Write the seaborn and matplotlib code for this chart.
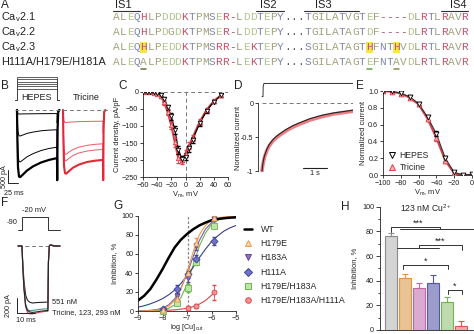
import matplotlib
matplotlib.use("Agg")
import matplotlib.pyplot as plt
import numpy as np
import pandas as pd
import seaborn as sns
from matplotlib.patches import Rectangle
from matplotlib.lines import Line2D

# ------------------------------------------------------------------ data
# Panel A: alignment
SEQ_NAMES = ["Ca$_\\mathrm{v}$2.1", "Ca$_\\mathrm{v}$2.2", "Ca$_\\mathrm{v}$2.3", "H111A/H179E/H181A"]
SEQS = [
    "ALEQHLPDDDKTPMSER-LDDTEPY...TGILATVGTEF----DLRTLRAVR",
    "ALEQHLPDGDKTPMSER-LDDTEPY...TGILATAGTDF----DLRTLRAVR",
    "ALEQHLPEDDKTPMSRR-LEKTEPY...SGILATAGTHFNTHVDLRTLRAVR",
    "ALEQALPEDDKTPMSRR-LEKTEPY...SGILATAGTEFNTAVDLRTLRAVR",
]
SEGMENT_NAMES = ["IS1", "IS2", "IS3", "IS4"]
SEGMENT_START = [0, 21, 28, 48]
SEGMENT_END = [4, 25, 36, 52]
HIGHLIGHT_ROW = [2, 2, 2]
HIGHLIGHT_POS = [4, 37, 41]
UNDERLINE_ROW = [3, 3, 3]
UNDERLINE_POS = [4, 37, 41]

# Panel B: current traces (ms, pA)
B_T = [0, 1, 2.5, 5, 8, 15, 25, 40, 60, 80, 100, 100.5, 101.5, 103, 106]
B_HEPES = [
    [0, -80, -140, -155, -155, -150, -148, -145, -142, -140, -138, -500, -120, -10, 0],
    [0, -450, -850, -990, -1000, -960, -900, -850, -800, -775, -760, -1500, -300, -40, 0],
    [0, -900, -1700, -1980, -2000, -1920, -1800, -1680, -1560, -1480, -1430, -2300, -500, -60, 0],
    [0, -1200, -2200, -2560, -2580, -2480, -2330, -2170, -2020, -1920, -1850, -2700, -700, -80, 0],
]
B_TRICINE = [
    [0, -200, -420, -480, -480, -470, -460, -450, -440, -435, -430, -900, -200, -20, 0],
    [0, -800, -1500, -1700, -1700, -1620, -1520, -1430, -1360, -1320, -1300, -2000, -400, -50, 0],
    [0, -950, -1750, -1950, -1950, -1860, -1750, -1650, -1580, -1540, -1520, -2300, -500, -60, 0],
    [0, -1150, -2150, -2430, -2450, -2350, -2220, -2100, -2000, -1950, -1920, -2700, -700, -80, 0],
]
B_STEP_MV = [-40, -30, -20, -10, 0, 10]

# Panel C: I-V
C_V = [-60, -55, -50, -45, -40, -35, -30, -25, -20, -15, -10, -5, 0, 5, 10, 20, 30, 40, 50]
C_HEPES = [0, 0, 0, -1, -3, -8, -22, -45, -72, -112, -170, -197, -190, -165, -140, -92, -55, -28, -10]
C_HEPES_ERR = [2, 2, 2, 2, 3, 4, 6, 8, 10, 12, 12, 10, 10, 10, 9, 8, 6, 5, 5]
C_TRICINE = [0, 0, -1, -2, -5, -12, -30, -60, -98, -148, -195, -200, -182, -158, -135, -88, -52, -27, -10]
C_TRICINE_ERR = [2, 2, 2, 2, 3, 5, 7, 9, 12, 14, 13, 11, 10, 10, 9, 8, 6, 5, 5]

# Panel D: normalized current decay
D_T = [0, 0.02, 0.05, 0.1, 0.2, 0.3, 0.45, 0.6, 0.75, 1.0, 1.25, 1.5, 2.0, 2.5, 3.0, 3.5, 3.8]
D_HEPES = [-1, -0.93, -0.86, -0.78, -0.68, -0.61, -0.54, -0.49, -0.45, -0.39, -0.34, -0.30, -0.23, -0.18, -0.145, -0.12, -0.105]
D_TRICINE = [-1, -0.94, -0.88, -0.80, -0.70, -0.63, -0.56, -0.51, -0.47, -0.41, -0.36, -0.32, -0.25, -0.20, -0.16, -0.135, -0.12]

# Panel E: inactivation
E_V = [-100, -90, -80, -70, -60, -50, -40, -30, -20, -10, 0]
E_HEPES = [1.0, 0.995, 0.975, 0.93, 0.85, 0.69, 0.49, 0.20, 0.03, 0.0, 0.01]
E_TRICINE = [1.0, 0.99, 0.97, 0.92, 0.84, 0.67, 0.44, 0.17, 0.02, 0.0, 0.0]
E_ERR = [0.01, 0.01, 0.02, 0.02, 0.02, 0.03, 0.03, 0.03, 0.02, 0.01, 0.01]

# Panel F: traces with Cu (ms, pA)
F_T = [0, 2.2, 2.7, 3.3, 4.2, 5.2, 6.5, 8, 10, 12, 14, 16.6, 16.9, 17.4, 18, 19, 20.5, 23.3]
F_TRACES = {
    "551 nM": [0, 0, -250, -460, -650, -720, -750, -760, -755, -752, -750, -748, -200, 0, 15, 8, 0, 0],
    "Tricine": [0, 0, -300, -560, -790, -860, -880, -885, -880, -872, -865, -860, -220, 0, 15, 8, 0, 0],
    "123 nM": [0, 0, -310, -580, -810, -885, -905, -905, -895, -885, -875, -870, -220, 0, 15, 8, 0, 0],
    "293 nM": [0, 0, -290, -540, -770, -845, -862, -860, -852, -845, -840, -838, -210, 0, 15, 8, 0, 0],
}
F_COLORS = {"551 nM": "#222222", "Tricine": "#222222", "123 nM": "#e0506a", "293 nM": "#3c9a86"}
F_PROTO_T = [0, 2.2, 2.2, 16.7, 16.7, 23.3]
F_PROTO_V = [-90, -90, -20, -20, -90, -90]

# Panel G: concentration-response
G_CURVE_X = [-9, -8.75, -8.5, -8.25, -8, -7.75, -7.5, -7.25, -7, -6.75, -6.5, -6.25, -6, -5.75, -5.5, -5.25, -5]
G_WT_CURVE = [11, 16, 23, 33, 44, 56, 67, 75, 81, 86, 90, 93, 95.5, 96.8, 97.6, 98.2, 98.6]
G_H111A_CURVE = [4, 5.5, 7.5, 10, 13, 17, 22, 29, 37, 46, 56, 65, 73, 79, 84, 87.5, 90]
G_H179E_CURVE = [0, 0.2, 0.4, 0.9, 2.2, 5, 11, 23, 41, 62, 80, 90, 96, 98, 99, 99.6, 100]
G_H183A_CURVE = [0.1, 0.3, 0.7, 1.5, 3, 6.5, 13, 24, 39, 57, 74, 86, 93, 96.5, 98, 99, 99.5]
G_DBL_CURVE = [0, 0.1, 0.2, 0.5, 1.2, 2.8, 6.5, 14, 28, 48, 68, 82, 91, 95.5, 97.8, 99, 99.5]
G_TRIPLE_CURVE_X = [-9, -8.5, -8, -7.5, -7, -6.75, -6.5, -6.25, -6, -5.9]
G_TRIPLE_CURVE = [0, 0.2, 0.5, 1.2, 2.8, 4.5, 7.2, 11, 16.5, 19]
G_X = [-8.0, -7.42, -6.95, -6.63, -5.9]
G_H179E = [1, 13, 40, 72, 98]
G_H179E_ERR = [1, 3, 4, 5, 2]
G_H183A = [1, 16, 35, 68, 97]
G_H183A_ERR = [1, 3, 4, 4, 2]
G_H111A = [2, 23, 38.5, 55, 74]
G_H111A_ERR = [1, 4, 4, 4, 4]
G_DBL = [0.3, 8, 24, 52, 90]
G_DBL_ERR = [0.5, 2, 4, 4, 2]
G_TRIPLE_X = [-6.95, -6.63, -5.9]
G_TRIPLE = [3, 5.5, 19.5]
G_TRIPLE_ERR = [2, 2, 8]
G_CU_LINE = -6.95

# Panel H: bars at 123 nM
H_LABELS = ["WT", "H179E", "H183A", "H111A", "H179E/H183A", "H179E/H183A/H111A"]
H_VALUES = [76, 42, 34, 38, 23, 3]
H_ERR = [2.5, 3.5, 4.5, 6.5, 4, 4]
H_FILL = ["#d4d4d4", "#f7c585", "#e3a2d4", "#9494d2", "#bde3a6", "#f6a3a3"]
H_EDGE = ["#8c8c8c", "#e29445", "#c465a8", "#5558a8", "#73b456", "#e05454"]
SIG_TEXT = ["***", "***", "*", "*"]

# ------------------------------------------------------------------ figure
W, H = 474, 334
sns.set_theme(style="ticks")
plt.rcParams["font.family"] = ["Liberation Sans", "DejaVu Sans"]
plt.rcParams["mathtext.fontset"] = "custom"
plt.rcParams["mathtext.rm"] = "Liberation Sans"
plt.rcParams["mathtext.it"] = "Liberation Sans:italic"
TXT = "#222222"

fig = plt.figure(figsize=(W / 100, H / 100), dpi=100)


def pax(l, t, r, b):
    ax = fig.add_axes([l / W, 1 - b / H, (r - l) / W, (b - t) / H])
    ax.patch.set_visible(False)
    return ax


def style(ax, bottom=True):
    sns.despine(ax=ax, bottom=not bottom)
    ax.tick_params(labelsize=5.2, length=2.2, width=0.6, pad=1.2, colors=TXT)
    for s in ax.spines.values():
        s.set_linewidth(0.6)
        s.set_color(TXT)


ov = pax(0, 0, W, H)
ov.set_xlim(0, W)
ov.set_ylim(H, 0)
ov.axis("off")

# panel letters
for let, (x, y) in {"A": (1, 5), "B": (1, 86), "C": (118, 86), "D": (234, 86), "E": (356, 86),
                    "F": (1, 203), "G": (113, 206), "H": (341, 207)}.items():
    ov.text(x, y, let, fontsize=8.5, ha="left", va="center", color=TXT)

# ---------------- A
def res_color(ch):
    if ch in "RKH":
        return "#c9506c"
    if ch in "DE":
        return "#b3c58e"
    if ch in "QNSTYC":
        return "#7d86ad"
    if ch in "-":
        return "#a04858"
    if ch == ".":
        return "#555555"
    return "#a2a27f"

X0, DX = 113.0, 6.83
ROW_Y = [17, 32, 47, 62]
for r, i in zip(HIGHLIGHT_ROW, HIGHLIGHT_POS):
    ov.add_patch(Rectangle((X0 + DX * i, ROW_Y[r] - 5.5), DX, 11, color="#f6e64c", zorder=0, lw=0))
for r, (name, seq) in enumerate(zip(SEQ_NAMES, SEQS)):
    ov.text(1, ROW_Y[r], name, fontsize=7.8, va="center", ha="left", color=TXT)
    for i, ch in enumerate(seq):
        ov.text(X0 + DX * (i + 0.5), ROW_Y[r], ch, family="Liberation Mono", fontsize=8,
                color=res_color(ch), ha="center", va="center")
for r, i, c in zip(UNDERLINE_ROW, UNDERLINE_POS, ["#6b6b3a", "#6aa04a", "#8a8a50"]):
    ov.plot([X0 + DX * i + 1, X0 + DX * (i + 1) - 1], [ROW_Y[r] + 6.5] * 2, color=c, lw=1.1)
for name, a, b, tx in zip(SEGMENT_NAMES, SEGMENT_START, SEGMENT_END, [123, 268, 323, 458]):
    ov.plot([X0 + DX * a, X0 + DX * b], [10.5, 10.5], color="#333333", lw=0.8)
    ov.text(tx, 4.5, name, fontsize=8, ha="center", va="center", color=TXT)

# ---------------- B
TRIC_OFFSET = 115
axB = pax(0, 75, 120, 200)
axB.set_xlim(-42.5, 257.5)
axB.set_ylim(-3462, 1346)
axB.axis("off")
for k, tr in enumerate(B_HEPES):
    sns.lineplot(x=B_T, y=tr, ax=axB, color="black", lw=1.6 if k == 3 else 0.7,
                 estimator=None, sort=False)
for k, tr in enumerate(B_TRICINE):
    sns.lineplot(x=[t + TRIC_OFFSET for t in B_T], y=tr, ax=axB,
                 color="#e02a36" if k == 3 else "#ec5a66", lw=1.5 if k == 3 else 0.7,
                 estimator=None, sort=False)
axB.plot([-5, 232], [0, 0], ls=(0, (4, 3)), color="#777777", lw=0.7)
axB.plot([-22.5, -22.5, 2.5], [-2308, -2808, -2808], color=TXT, lw=0.7)
axB.text(-31.5, -2560, "500 pA", rotation=90, fontsize=5.2, ha="center", va="center", color=TXT)
axB.text(-9, -3080, "25 ms", fontsize=5.2, ha="center", va="top", color=TXT)
axBp = pax(0, 75, 120, 102)
axBp.set_xlim(-42.5, 257.5)
axBp.set_ylim(-98.7, 18.7)
axBp.axis("off")
for lvl in B_STEP_MV:
    sns.lineplot(x=[-6, 0, 0, 100, 100, 106], y=[-90, -90, lvl, lvl, -90, -90], ax=axBp,
                 color="#444444", lw=0.6, estimator=None, sort=False)
ov.text(37, 98, "HEPES", fontsize=6.5, ha="center", va="center", color=TXT)
ov.text(86, 98, "Tricine", fontsize=6.5, ha="center", va="center", color=TXT)

# ---------------- C
axC = pax(143, 92, 228, 177)
axC.axhline(0, ls=(0, (4, 3)), color="#777777", lw=0.7)
axC.axvline(0, ls=(0, (4, 3)), color="#777777", lw=0.7)
sns.lineplot(x=C_V, y=C_TRICINE, ax=axC, color="#e0404c", lw=1.6, estimator=None, sort=False)
sns.lineplot(x=C_V, y=C_HEPES, ax=axC, color="black", lw=0.9, estimator=None, sort=False)
axC.errorbar(C_V, C_TRICINE, yerr=C_TRICINE_ERR, fmt="none", ecolor="#e0404c", elinewidth=0.6, capsize=1.2)
axC.errorbar(C_V, C_HEPES, yerr=C_HEPES_ERR, fmt="none", ecolor="black", elinewidth=0.6, capsize=1.2)
sns.scatterplot(x=C_V, y=C_TRICINE, ax=axC, marker="^", s=10, facecolor="#f6b4b4", edgecolor="#e0404c", linewidth=0.6, zorder=4)
sns.scatterplot(x=C_V, y=C_HEPES, ax=axC, marker="v", s=10, facecolor="white", edgecolor="black", linewidth=0.6, zorder=5)
axC.set_xlim(-60, 60)
axC.set_ylim(-250, 0)
axC.set_xticks([-60, -40, -20, 0, 20, 40, 60])
axC.set_yticks([0, -50, -100, -150, -200, -250])
style(axC)
axC.set_xlabel("V$_\\mathrm{m}$, mV", fontsize=5.4, labelpad=1, color=TXT)
axC.set_ylabel("Current density, pA/pF", fontsize=5.4, labelpad=1, color=TXT)

# ---------------- D
axD = pax(258, 82.6, 353, 172.4)
axD.set_xlim(-0.167, 3.79)
axD.set_ylim(-1.02, 0.3)
axD.plot([0, 3.79], [0, 0], ls=(0, (4, 3)), color="#777777", lw=0.7)
sns.lineplot(x=D_T, y=D_TRICINE, ax=axD, color="#ec7f86", lw=2.6, estimator=None, sort=False)
sns.lineplot(x=D_T, y=D_HEPES, ax=axD, color="#222222", lw=0.8, estimator=None, sort=False)
axD.plot([1.72, 2.72], [-0.955, -0.955], color=TXT, lw=0.8)
axD.text(2.22, -0.99, "1 s", fontsize=5.2, ha="center", va="top", color=TXT)
style(axD, bottom=False)
axD.spines["left"].set_bounds(-1, 0)
axD.set_yticks([0, -0.5, -1])
axD.set_yticklabels(["0", "-0.5", "-1"])
axD.set_xticks([])
axD.set_ylabel("Normalized current", fontsize=5.4, labelpad=1, color=TXT)
axD.yaxis.set_label_coords(-0.17, 0.38)
axDp = pax(258, 82, 353, 98)
axDp.set_xlim(-0.167, 3.79)
axDp.set_ylim(-100, 10)
axDp.axis("off")
sns.lineplot(x=[0.0, 0.04, 0.05, 0.08, 3.79], y=[-90, -90, -20, 0, 0], ax=axDp, color="#333333", lw=0.7,
             estimator=None, sort=False)

# ---------------- E
axE = pax(383, 91, 472, 175)
sns.lineplot(x=E_V, y=E_TRICINE, ax=axE, color="#e0404c", lw=1.5, estimator=None, sort=False)
sns.lineplot(x=E_V, y=E_HEPES, ax=axE, color="#333333", lw=0.8, estimator=None, sort=False)
axE.errorbar(E_V, E_TRICINE, yerr=E_ERR, fmt="none", ecolor="#e0404c", elinewidth=0.6, capsize=1.2)
axE.errorbar(E_V, E_HEPES, yerr=E_ERR, fmt="none", ecolor="black", elinewidth=0.6, capsize=1.2)
sns.scatterplot(x=E_V, y=E_TRICINE, ax=axE, marker="^", s=12, facecolor="#f6b4b4", edgecolor="#e0404c", linewidth=0.6, zorder=4)
sns.scatterplot(x=E_V, y=E_HEPES, ax=axE, marker="v", s=12, facecolor="white", edgecolor="black", linewidth=0.6, zorder=5)
axE.set_xlim(-100, 0)
axE.set_ylim(0, 1.0)
axE.set_xticks([-100, -80, -60, -40, -20, 0])
axE.set_yticks([0, 0.2, 0.4, 0.6, 0.8, 1.0])
axE.set_yticklabels(["0.0", "0.2", "0.4", "0.6", "0.8", "1.0"])
style(axE)
axE.set_xlabel("V$_\\mathrm{m}$, mV", fontsize=5.4, labelpad=1, color=TXT)
axE.set_ylabel("Normalized current", fontsize=5.4, labelpad=1, color=TXT)
handlesE = [Line2D([], [], ls="none", marker="v", ms=4, mfc="white", mec="black", mew=0.7),
            Line2D([], [], ls="none", marker="^", ms=4, mfc="#f6b4b4", mec="#e0404c", mew=0.7)]
axE.legend(handlesE, ["HEPES", "Tricine"], loc="lower left", bbox_to_anchor=(0.06, 0.04), frameon=False,
           fontsize=6.2, handlelength=0.8, handletextpad=0.5, labelspacing=0.25, borderaxespad=0, borderpad=0)

# ---------------- F
axF = pax(0, 236, 130, 334)
axF.set_xlim(-10, 62.2)
axF.set_ylim(-1173, 133)
axF.axis("off")
axF.plot([0, 23.3], [0, 0], ls=(0, (4, 3)), color="#777777", lw=0.7)
for name in ["551 nM", "293 nM", "123 nM", "Tricine"]:
    sns.lineplot(x=F_T, y=F_TRACES[name], ax=axF, color=F_COLORS[name], lw=0.8, estimator=None, sort=False)
axF.plot([-0.55, -0.55, 9.45], [-693, -893, -893], color=TXT, lw=0.7)
axF.text(-5.2, -793, "200 pA", rotation=90, fontsize=5.2, ha="center", va="center", color=TXT)
axF.text(4.5, -950, "10 ms", fontsize=5.2, ha="center", va="top", color=TXT)
axF.text(18.9, -747, "551 nM", fontsize=5.4, ha="left", va="center", color=TXT)
axF.text(18.9, -893, "Tricine, 123, 293 nM", fontsize=5.4, ha="left", va="center", color=TXT)
axFp = pax(0, 205, 130, 235)
axFp.set_xlim(-10, 62.2)
axFp.set_ylim(-116.9, 44.5)
axFp.axis("off")
sns.lineplot(x=F_PROTO_T, y=F_PROTO_V, ax=axFp, color="#333333", lw=0.7, estimator=None, sort=False)
ov.text(12.5, 223, "-90", fontsize=5.4, ha="center", va="center", color=TXT)
ov.text(34, 211, "-20 mV", fontsize=5.4, ha="center", va="center", color=TXT)

# ---------------- G
G_STYLE = {
    "H179E": dict(marker="^", mfc="#fcd8ae", mec="#ec9a4c", line="#ec9a4c"),
    "H183A": dict(marker="v", mfc="#8d72c0", mec="#5e4896", line="#7a5cae"),
    "H111A": dict(marker="D", mfc="#6d73c6", mec="#3e4498", line="#3a3f86"),
    "H179E/H183A": dict(marker="s", mfc="#bfe5a6", mec="#6cb64e", line="#6cb64e"),
    "H179E/H183A/H111A": dict(marker="o", mfc="#f49494", mec="#dc4646", line="#dc4646"),
}
axG = pax(138, 216, 236, 311)
axG.axvline(G_CU_LINE, ls=(0, (2, 1.5)), color="#888888", lw=0.9)
sns.lineplot(x=G_TRIPLE_CURVE_X, y=G_TRIPLE_CURVE, ax=axG, color=G_STYLE["H179E/H183A/H111A"]["line"], lw=0.8, estimator=None)
sns.lineplot(x=G_CURVE_X, y=G_DBL_CURVE, ax=axG, color=G_STYLE["H179E/H183A"]["line"], lw=0.8, estimator=None)
sns.lineplot(x=G_CURVE_X, y=G_H111A_CURVE, ax=axG, color=G_STYLE["H111A"]["line"], lw=0.8, estimator=None)
sns.lineplot(x=G_CURVE_X, y=G_H183A_CURVE, ax=axG, color=G_STYLE["H183A"]["line"], lw=0.8, estimator=None)
sns.lineplot(x=G_CURVE_X, y=G_H179E_CURVE, ax=axG, color=G_STYLE["H179E"]["line"], lw=0.8, estimator=None)
sns.lineplot(x=G_CURVE_X, y=G_WT_CURVE, ax=axG, color="black", lw=1.8, estimator=None)
for name, xs, ys, es in [("H179E/H183A/H111A", G_TRIPLE_X, G_TRIPLE, G_TRIPLE_ERR),
                         ("H179E/H183A", G_X, G_DBL, G_DBL_ERR),
                         ("H111A", G_X, G_H111A, G_H111A_ERR),
                         ("H183A", G_X, G_H183A, G_H183A_ERR),
                         ("H179E", G_X, G_H179E, G_H179E_ERR)]:
    st = G_STYLE[name]
    axG.errorbar(xs, ys, yerr=es, fmt="none", ecolor=st["mec"], elinewidth=0.6, capsize=1.3, zorder=4)
    sns.scatterplot(x=xs, y=ys, ax=axG, marker=st["marker"], s=13, facecolor=st["mfc"],
                    edgecolor=st["mec"], linewidth=0.6, zorder=5, clip_on=False)
axG.set_xlim(-9, -5)
axG.set_ylim(0, 100)
axG.set_xticks([-9, -8, -7, -6, -5])
axG.set_yticks([0, 20, 40, 60, 80, 100])
style(axG)
axG.tick_params(axis="x", pad=0.8)
axG.set_xlabel("log [Cu]$_\\mathrm{out}$", fontsize=5.2, labelpad=0, color=TXT)
axG.set_ylabel("Inhibition, %", fontsize=5.4, labelpad=2, color=TXT)
handlesG = [Line2D([], [], color="black", lw=1.8)]
for name in H_LABELS[1:]:
    st = G_STYLE[name]
    handlesG.append(Line2D([], [], ls="none", marker=st["marker"], ms=4, mfc=st["mfc"], mec=st["mec"], mew=0.7))
axG.legend(handlesG, H_LABELS, loc="upper left", bbox_to_anchor=(244 / W, 1 - 225 / H),
           bbox_transform=fig.transFigure, frameon=False, fontsize=6.3, handlelength=0.9,
           handletextpad=1.0, labelspacing=0.6, borderaxespad=0, borderpad=0)

# ---------------- H
axH = pax(380, 206.7, 473, 330)
dfH = pd.DataFrame({"mutant": H_LABELS, "inhibition": H_VALUES})
sns.barplot(data=dfH, x="mutant", y="inhibition", hue="mutant", palette=H_FILL, ax=axH,
            legend=False, width=0.85, linewidth=0.8, errorbar=None)
for p, ec in zip(axH.patches, H_EDGE):
    p.set_edgecolor(ec)
for i, (v, e, ec) in enumerate(zip(H_VALUES, H_ERR, H_EDGE)):
    axH.errorbar([i], [v], yerr=[[0], [e]], fmt="none", ecolor=ec, elinewidth=0.8, capsize=2.2, capthick=0.8)
axH.set_xlim(-0.78, 5.82)
axH.set_ylim(0, 100)
axH.set_yticks([0, 20, 40, 60, 80, 100])
axH.set_yticks(list(range(10, 100, 20)), minor=True)
axH.set_xticks([])
axH.set_xlabel("")
axH.set_ylabel("Inhibition, %", fontsize=5.4, labelpad=3, color=TXT)
style(axH)
axH.tick_params(axis="y", which="major", length=3)
axH.tick_params(axis="y", which="minor", length=1.8, width=0.6, colors=TXT)
axH.text(0.49, 0.985, "123 nM Cu$^{2+}$", transform=axH.transAxes, fontsize=6.2, ha="center",
         va="center", color=TXT)
kw = dict(color="#333333", lw=0.7, clip_on=False)
# significance brackets (bar index units, % units)
axH.plot([0, 0, 3.48, 3.48], [79.5, 83.8, 83.8, 81.7], **kw)
axH.plot([0.64, 6.0], [81.7, 81.7], **kw)
axH.text(1.91, 86.5, SIG_TEXT[0], fontsize=6.5, ha="center", va="center", color=TXT)
axH.plot([1.99, 1.99, 5.04, 5.04], [66.3, 68.9, 68.9, 65.0], **kw)
axH.plot([0.43, 3.4], [66.3, 66.3], **kw)
axH.text(3.48, 71.8, SIG_TEXT[1], fontsize=6.5, ha="center", va="center", color=TXT)
axH.plot([0.85, 0.85, 4.04, 4.04], [49.5, 52.7, 52.7, 49.5], **kw)
axH.text(2.48, 55.8, SIG_TEXT[2], fontsize=6.5, ha="center", va="center", color=TXT)
axH.plot([4.04, 4.04, 5.04, 5.04], [29.2, 32.4, 32.4, 29.2], **kw)
axH.text(4.54, 35.5, SIG_TEXT[3], fontsize=6.5, ha="center", va="center", color=TXT)

fig.savefig("out.png", dpi=100)
